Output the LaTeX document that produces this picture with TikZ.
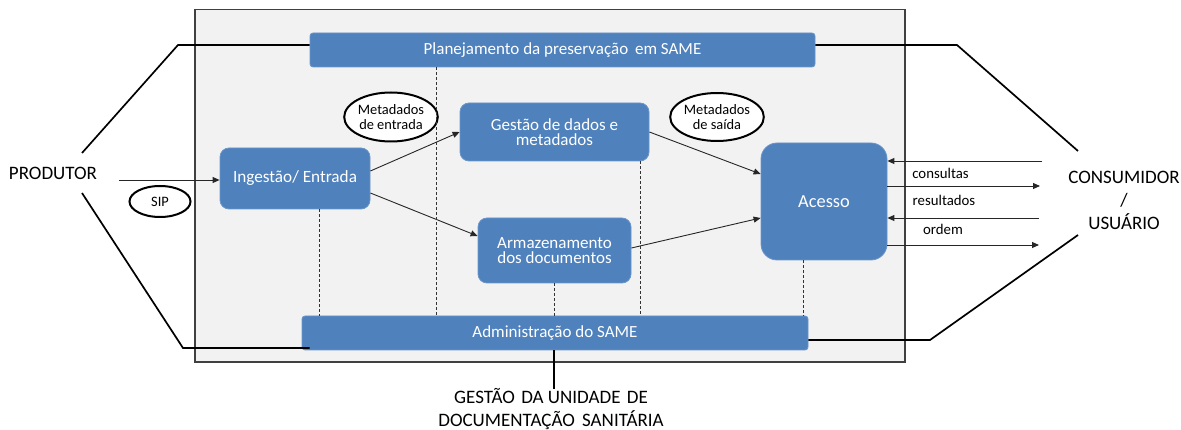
\documentclass[tikz,border=0pt]{standalone}
\usepackage{fontspec}
\setmainfont{Carlito}
\usetikzlibrary{arrows.meta,shapes.geometric}
\definecolor{boxblue}{HTML}{4F81BD}
\definecolor{boxedge}{HTML}{6A95C9}
\definecolor{panel}{HTML}{F2F2F2}
\begin{document}
\begin{tikzpicture}[x=1pt,y=-1pt,
  bluebar/.style={fill=boxblue, draw=boxedge, line width=0.8pt, rounded corners=3pt, text=white, font=\fontsize{17}{15}\selectfont, inner sep=0pt},
  bluebox/.style={fill=boxblue, draw=boxedge, line width=0.8pt, rounded corners=9pt, text=white, align=center, font=\fontsize{17}{15.5}\selectfont, inner sep=0pt},
  oval/.style={ellipse, draw=black, line width=2pt, fill=white, inner sep=0pt, align=center, font=\fontsize{14.4}{15}\selectfont},
  frameline/.style={line width=1.7pt, black},
  arr/.style={-{Triangle[length=7pt,width=6pt]}, line width=0.9pt, draw=black!85},
  dsh/.style={dash pattern=on 3pt off 2pt, line width=0.9pt, black!80},
  lbl/.style={font=\fontsize{14.8}{14}\selectfont, inner sep=0pt},
  big/.style={font=\fontsize{19}{23}\selectfont, align=center, inner sep=0pt}]
\useasboundingbox (0,0) rectangle (1181,430);
% panel
\draw[fill=panel, draw=black!75, line width=1.3pt] (195,9.5) rectangle (905,362);
% nodes
\node[bluebar, minimum width=505pt, minimum height=34pt] (plan) at (562.5,50) {Planejamento da preservação\hspace{3pt} em SAME};
\node[bluebar, minimum width=506pt, minimum height=34pt] (admin) at (555,333) {Administração do SAME};
\node[bluebox, minimum width=150pt, minimum height=61pt, font=\fontsize{17.2}{15}\selectfont] (ing) at (295,178.5) {Ingestão/ Entrada};
\node[bluebox, minimum width=189pt, minimum height=58pt] (gest) at (554.5,132) {Gestão de dados e\\metadados};
\node[bluebox, minimum width=153pt, minimum height=65pt] (arm) at (554.5,250.5) {Armazenamento\\dos documentos};
\node[bluebox, minimum width=126pt, minimum height=117pt, rounded corners=16pt, font=\fontsize{18.4}{15}\selectfont] (acc) at (824,201.5) {Acesso};
\node[oval, minimum width=91pt, minimum height=49pt] (ment) at (391,117) {Metadados\\de entrada};
\node[oval, minimum width=92pt, minimum height=48pt] (msai) at (717,117) {Metadados\\de saída};
\node[oval, minimum width=61pt, minimum height=31pt] (sip) at (160,201.5) {SIP};
\node[big] (prod) at (53,173) {PRODUTOR};
\node[big] (cons) at (1124,200) {CONSUMIDOR\\/\\USUÁRIO};
\node[big] (gud) at (551,409.5) {GESTÃO\hspace{2pt} DA UNIDADE\hspace{2pt} DE\\DOCUMENTAÇÃO\hspace{3pt} SANITÁRIA};
% free ends
\coordinate (pu) at (82,153);
\coordinate (pk1) at (178,45);
\coordinate (pd) at (82,193);
\coordinate (pk2) at (183,348);
\coordinate (pin) at (119,180);
\coordinate (cu) at (1078,151);
\coordinate (ck1) at (957,45);
\coordinate (cd) at (1078,235);
\coordinate (ck2) at (930,340);
\coordinate (a1) at (1042,161);
\coordinate (a2) at (1040,186);
\coordinate (a3) at (1039,218);
\coordinate (a4) at (1039,245);
% hexagon lines
\draw[frameline] (pu) -- (pk1) -- ([yshift=5pt]plan.west);
\draw[frameline] (pd) -- (pk2) -- ([yshift=-15pt,xshift=8pt]admin.west);
\draw[frameline] ([yshift=5pt]plan.east) -- (ck1) -- (cu);
\draw[frameline] ([yshift=-7pt]admin.east) -- (ck2) -- (cd);
% producer arrow
\draw[arr] (pin) -- (pin -| ing.west);
% inner arrows
\draw[arr] ([yshift=7.5pt]ing.east) -- (gest.west);
\draw[arr] ([yshift=-14.5pt]ing.east) -- ([yshift=14.5pt]arm.west);
\draw[arr] (gest.east) -- ([yshift=27.5pt]acc.west);
\draw[arr] ([yshift=2.5pt]arm.east) -- ([yshift=-16.5pt]acc.west);
% consumer arrows
\draw[arr] (a1) -- (a1 -| acc.east);
\draw[arr] (a2 -| acc.east) -- (a2);
\draw[arr] (a3) -- (a3 -| acc.east);
\draw[arr] (a4 -| acc.east) -- (a4);
\node[lbl] (l1) at (940.5,173) {consultas};
\node[lbl] (l2) at (944,200) {resultados};
\node[lbl] (l3) at (943,229) {ordem};
% dashed links
\draw[dsh] ([xshift=24pt]ing.south) -- ([xshift=24pt]ing.south |- admin.north);
\draw[dsh] ([xshift=-126.5pt]plan.south) -- ([xshift=-126.5pt]plan.south |- admin.north);
\draw[dsh] (arm.south) -- (arm.south |- admin.north);
\draw[dsh] ([xshift=85.5pt]gest.south) -- ([xshift=85.5pt]gest.south |- admin.north);
\draw[dsh] ([xshift=-21pt]acc.south) -- ([xshift=-21pt]acc.south |- admin.north);
% management link
\draw[line width=2pt] ([xshift=-1pt]admin.south) -- ([xshift=-1pt]admin.south |- gud.north);
\end{tikzpicture}
\end{document}
